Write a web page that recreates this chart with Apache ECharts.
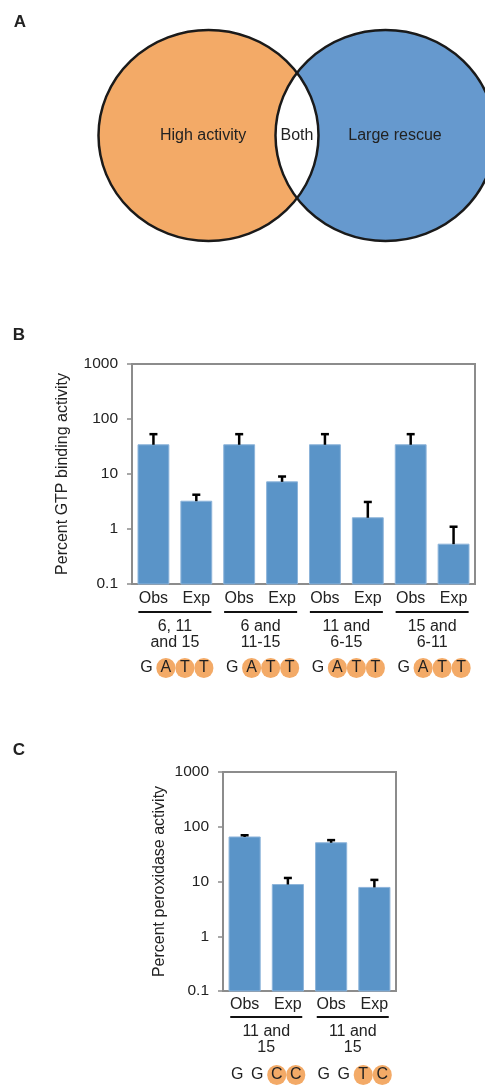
<!DOCTYPE html>
<html>
<head>
<meta charset="utf-8">
<script src="https://cdn.jsdelivr.net/npm/echarts@6/dist/echarts.min.js"></script>
<style>
  html, body { margin: 0; padding: 0; background: #fff; }
  #main { width: 485px; height: 1085px; }
</style>
</head>
<body>
<div id="main"></div>
<script>
// panel B data
var catB = ['Obs', 'Exp', 'Obs', 'Exp', 'Obs', 'Exp', 'Obs', 'Exp'];
var valB = [34, 3.2, 34, 7.2, 34, 1.6, 34, 0.53];
var hiB = [53, 4.2, 53, 9.0, 53, 3.1, 53, 1.1]; // top of error bar
var groupB = ['6, 11\nand 15', '6 and\n11-15', '11 and\n6-15', '15 and\n6-11'];
var seqB = ['GATT', 'GATT', 'GATT', 'GATT'];
var markB = [[0, 1, 1, 1], [0, 1, 1, 1], [0, 1, 1, 1], [0, 1, 1, 1]];

// panel C data
var catC = ['Obs', 'Exp', 'Obs', 'Exp'];
var valC = [65, 8.8, 51, 7.8];
var hiC = [70, 11.6, 57, 10.7];
var groupC = ['11 and\n15', '11 and\n15'];
var seqC = ['GGCC', 'GGTC'];
var markC = [[0, 0, 1, 1], [0, 0, 1, 1]];

// venn labels
var vennLabels = ['High activity', 'Both', 'Large rescue'];

var FONT = '"Liberation Sans", Arial, Helvetica, sans-serif';
var ORANGE = '#F3AA67';
var VBLUE = '#6699CE';
var BAR = '#5A94C8';
var GREY = '#8c8c8c';
var LOG_MIN = 0.1, LOG_MAX = 1000;

var chart = echarts.init(document.getElementById('main'));

// venn shapes
var cy = 135.5, rx = 110, ry = 105.5, cxL = 208.5, cxR = 385.5;
function ellipse(cx, fill, stroke) {
  return {
    type: 'circle', x: cx, y: cy, scaleX: rx / ry, scaleY: 1,
    shape: { cx: 0, cy: 0, r: ry },
    style: { fill: fill, stroke: stroke, lineWidth: stroke ? 2.5 / (rx / ry) : 0 }
  };
}
var lens = [];
var s0 = (cxR - cxL) / (2 * rx);
var dyMax = ry * Math.sqrt(1 - s0 * s0);
for (var k = 0; k <= 40; k++) {
  var dy = -dyMax + 2 * dyMax * k / 40;
  var s = Math.sqrt(Math.max(0, 1 - (dy / ry) * (dy / ry)));
  lens.push([cxL + rx * s, cy + dy]);
}
for (var k = 40; k >= 0; k--) {
  var dy = -dyMax + 2 * dyMax * k / 40;
  var s = Math.sqrt(Math.max(0, 1 - (dy / ry) * (dy / ry)));
  lens.push([cxR - rx * s, cy + dy]);
}
function txt(x, y, t, font) {
  return {
    type: 'text', x: x, y: y,
    style: { text: t, font: font, fill: '#222', textAlign: 'center', textVerticalAlign: 'middle', align: 'center', verticalAlign: 'middle' }
  };
}

function catAxis(gi, data, offset, label) {
  return {
    type: 'category', gridIndex: gi, data: data, position: 'bottom', offset: offset,
    axisLine: { show: false }, axisTick: { show: false }, splitLine: { show: false },
    axisLabel: Object.assign({ interval: 0, color: '#222', fontFamily: FONT, fontSize: 16, margin: 0 }, label)
  };
}
var seqRich = {
  g: { width: 20, align: 'center', fontSize: 16, color: '#222', fontFamily: FONT },
  c: { width: 19, height: 20, lineHeight: 20, borderRadius: 10, backgroundColor: ORANGE, align: 'center', fontSize: 16, color: '#222', fontFamily: FONT }
};
function seqFormatter(seqs, marks) {
  return function (v, idx) {
    var out = '';
    for (var j = 0; j < seqs[idx].length; j++) {
      out += (marks[idx][j] ? '{c|' : '{g|') + seqs[idx][j] + '}';
    }
    return out;
  };
}
function xAxesFor(gi, cats, groups, seqs, marks, m) {
  return [
    catAxis(gi, cats, 0, { margin: m.obs }),
    catAxis(gi, groups, m.line, {
      formatter: function () { return '{u| }'; },
      rich: { u: { width: m.lineW, height: 2, lineHeight: 2, fontSize: 2, backgroundColor: '#111' } }
    }),
    catAxis(gi, groups, m.text, { lineHeight: 16 }),
    catAxis(gi, groups, m.seq, { formatter: seqFormatter(seqs, marks), rich: seqRich })
  ];
}
function yAxisFor(gi, name, gap) {
  return {
    type: 'log', logBase: 10, gridIndex: gi, min: LOG_MIN, max: LOG_MAX,
    name: name, nameLocation: 'middle', nameGap: gap,
    nameTextStyle: { fontFamily: FONT, fontSize: 16, color: '#222' },
    axisLine: { show: false },
    axisTick: { show: true, length: 5, lineStyle: { color: GREY, width: 1.5 } },
    minorTick: { show: false },
    splitLine: { show: false },
    axisLabel: {
      color: '#222', fontFamily: FONT, fontSize: 15.5, margin: 14,
      formatter: function (v) { return v < 1 ? v.toFixed(1) : String(Math.round(v)); }
    }
  };
}
function barSeries(gi, vals) {
  return {
    type: 'custom', xAxisIndex: gi * 4, yAxisIndex: gi, z: 3,
    data: vals.map(function (v, i) { return [i, v]; }),
    encode: { x: 0, y: 1 },
    renderItem: function (params, api) {
      var i = api.value(0);
      var top = api.coord([i, api.value(1)]);
      var base = api.coord([i, LOG_MIN]);
      var w = api.size([1, 1])[0] * 0.72;
      return {
        type: 'rect',
        shape: { x: top[0] - w / 2, y: top[1], width: w, height: base[1] - top[1] },
        style: { fill: BAR, stroke: '#8DB4DA', lineWidth: 1 }
      };
    }
  };
}
function errSeries(gi, vals, his) {
  return {
    type: 'custom', xAxisIndex: gi * 4, yAxisIndex: gi, z: 4,
    data: vals.map(function (v, i) { return [i, v, his[i]]; }),
    encode: { x: 0, y: [1, 2] },
    renderItem: function (params, api) {
      var i = api.value(0);
      var p0 = api.coord([i, api.value(1)]);
      var p1 = api.coord([i, api.value(2)]);
      var st = { stroke: '#000', lineWidth: 2.5 };
      return {
        type: 'group', children: [
          { type: 'line', shape: { x1: p0[0], y1: p0[1], x2: p1[0], y2: p1[1] }, style: st },
          { type: 'line', shape: { x1: p1[0] - 4, y1: p1[1], x2: p1[0] + 4, y2: p1[1] }, style: st }
        ]
      };
    }
  };
}

chart.setOption({
  animation: false,
  backgroundColor: '#fff',
  textStyle: { fontFamily: FONT },
  graphic: [
    ellipse(cxL, ORANGE, null),
    ellipse(cxR, VBLUE, null),
    { type: 'polygon', shape: { points: lens }, style: { fill: '#fff' } },
    ellipse(cxL, 'transparent', '#1a1a1a'),
    ellipse(cxR, 'transparent', '#1a1a1a'),
    txt(203, 136, vennLabels[0], '16px ' + FONT),
    txt(297, 136, vennLabels[1], '16px ' + FONT),
    txt(395, 136, vennLabels[2], '16px ' + FONT),
    txt(20, 22, 'A', 'bold 17px ' + FONT),
    txt(19, 335, 'B', 'bold 17px ' + FONT),
    txt(19, 750, 'C', 'bold 17px ' + FONT)
  ],
  grid: [
    { left: 132, top: 364, width: 343, height: 220, show: true, borderColor: GREY, borderWidth: 2, backgroundColor: 'transparent' },
    { left: 223, top: 772, width: 173, height: 219, show: true, borderColor: GREY, borderWidth: 2, backgroundColor: 'transparent' }
  ],
  xAxis: xAxesFor(0, catB, groupB, seqB, markB, { obs: 7, line: 27, lineW: 73, text: 35, seq: 74 })
    .concat(xAxesFor(1, catC, groupC, seqC, markC, { obs: 6, line: 25, lineW: 72, text: 33, seq: 74 })),
  yAxis: [
    yAxisFor(0, 'Percent GTP binding activity', 61),
    yAxisFor(1, 'Percent peroxidase activity', 55)
  ],
  series: [
    barSeries(0, valB), errSeries(0, valB, hiB),
    barSeries(1, valC), errSeries(1, valC, hiC)
  ]
});
</script>
</body>
</html>
